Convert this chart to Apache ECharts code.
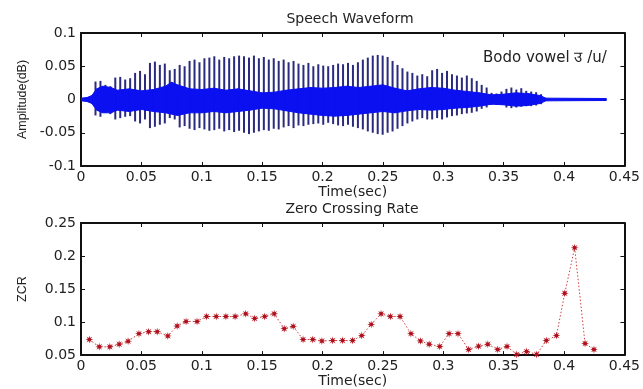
<!DOCTYPE html>
<html>
<head>
<meta charset="utf-8">
<script src="https://cdn.jsdelivr.net/npm/echarts@6/dist/echarts.min.js"></script>
<style>html,body{margin:0;padding:0;background:#fff;}#c{width:643px;height:389px;}</style>
</head>
<body>
<div id="c"></div>
<script>
// ---- Speech waveform: pitch pulses (time, positive peak, negative peak) ----
const pulseT = [0.0120,0.0161,0.0202,0.0243,0.0284,0.0325,0.0366,0.0407,0.0448,0.0489,0.0530,0.0571,0.0612,0.0653,0.0694,0.0735,0.0776,0.0817,0.0858,0.0899,0.0940,0.0981,0.1022,0.1063,0.1104,0.1145,0.1186,0.1227,0.1268,0.1309,0.1350,0.1391,0.1432,0.1473,0.1514,0.1555,0.1596,0.1637,0.1678,0.1719,0.1760,0.1801,0.1842,0.1883,0.1924,0.1965,0.2006,0.2047,0.2088,0.2129,0.2170,0.2211,0.2252,0.2293,0.2334,0.2375,0.2416,0.2457,0.2498,0.2539,0.2580,0.2621,0.2662,0.2703,0.2744,0.2785,0.2826,0.2867,0.2908,0.2949,0.2990,0.3031,0.3072,0.3113,0.3154,0.3195,0.3236,0.3277,0.3318,0.3359,0.3400,0.3441,0.3482,0.3523,0.3564,0.3605,0.3646,0.3687,0.3728,0.3769,0.3810];
const pulseHi = [0.027,0.028,0.022,0.020,0.033,0.034,0.030,0.032,0.040,0.043,
  0.038,0.055,0.057,0.052,0.054,0.044,0.046,0.052,0.050,0.058,
  0.060,0.056,0.062,0.063,0.065,0.060,0.064,0.062,0.065,0.066,
  0.065,0.063,0.066,0.062,0.064,0.060,0.062,0.058,0.060,0.056,
  0.058,0.054,0.052,0.055,0.050,0.053,0.051,0.050,0.052,0.054,
  0.053,0.055,0.052,0.056,0.060,0.063,0.066,0.067,0.066,0.064,
  0.058,0.052,0.047,0.042,0.040,0.036,0.038,0.035,0.044,0.046,
  0.040,0.043,0.038,0.036,0.033,0.036,0.032,0.028,0.022,0.018,
  0.010,0.009,0.012,0.016,0.018,0.015,0.017,0.013,0.012,0.011,0.008];
const pulseLo = [-0.024,-0.026,-0.020,-0.022,-0.030,-0.028,-0.026,-0.025,-0.033,-0.036,
  -0.030,-0.043,-0.041,-0.038,-0.036,-0.028,-0.030,-0.042,-0.040,-0.044,
  -0.046,-0.043,-0.045,-0.047,-0.046,-0.044,-0.048,-0.046,-0.049,-0.047,
  -0.050,-0.052,-0.050,-0.048,-0.046,-0.047,-0.044,-0.045,-0.042,-0.040,
  -0.043,-0.039,-0.040,-0.038,-0.037,-0.036,-0.038,-0.035,-0.037,-0.039,
  -0.040,-0.038,-0.041,-0.043,-0.045,-0.048,-0.050,-0.052,-0.053,-0.050,
  -0.048,-0.044,-0.040,-0.036,-0.033,-0.030,-0.028,-0.030,-0.030,-0.028,
  -0.030,-0.027,-0.025,-0.024,-0.022,-0.021,-0.020,-0.018,-0.014,-0.012,
  -0.008,-0.008,-0.008,-0.012,-0.013,-0.012,-0.011,-0.010,-0.010,-0.009,-0.007];
// dense core of the waveform (upper / lower edge)
const coreT  = [0.000,0.005,0.009,0.013,0.018,0.025,0.030,0.040,0.050,0.060,0.070,0.075,0.080,0.090,0.100,0.110,0.120,0.130,0.140,0.150,0.160,0.170,0.180,0.190,0.200,0.210,0.220,0.230,0.240,0.250,0.260,0.270,0.280,0.290,0.300,0.310,0.320,0.330,0.340,0.350,0.360,0.370,0.380,0.385,0.435];
const coreHi = [0.002,0.003,0.006,0.016,0.020,0.018,0.014,0.016,0.013,0.015,0.020,0.026,0.022,0.016,0.015,0.017,0.014,0.016,0.013,0.010,0.011,0.014,0.016,0.018,0.017,0.018,0.020,0.018,0.020,0.022,0.017,0.013,0.016,0.018,0.017,0.014,0.012,0.010,0.007,0.008,0.010,0.009,0.006,0.002,0.0015];
const coreLo = [-0.002,-0.003,-0.006,-0.016,-0.020,-0.020,-0.016,-0.018,-0.015,-0.018,-0.020,-0.022,-0.024,-0.020,-0.020,-0.018,-0.020,-0.018,-0.016,-0.013,-0.014,-0.017,-0.020,-0.022,-0.024,-0.025,-0.024,-0.022,-0.020,-0.018,-0.020,-0.017,-0.015,-0.016,-0.015,-0.013,-0.012,-0.010,-0.007,-0.008,-0.010,-0.009,-0.006,-0.002,-0.0015];

// ---- Zero crossing rate ----
const zcrT = [0.0069,0.0151,0.0239,0.0316,0.0390,0.0480,0.0560,0.0631,0.0719,0.0796,0.0870,0.0961,0.1040,0.1120,0.1200,0.1276,0.1364,0.1438,0.1521,0.1600,0.1683,0.1757,0.1839,0.1919,0.1995,
  0.2084,0.2166,0.2249,0.2325,0.2403,0.2485,0.2562,0.2642,0.2732,0.2811,0.2883,0.2971,0.3048,0.3122,0.3210,0.3292,0.3369,0.3451,0.3528,0.3608,0.3690,0.3773,0.3853,0.3937,0.4006,0.4088,0.4174,0.4248];
const zcrV = [0.0735,0.0625,0.0625,0.0665,0.071,0.0825,0.0855,0.0855,0.079,0.094,0.101,0.101,0.1085,0.1085,0.1085,0.1085,0.1125,0.1055,0.1085,0.1125,0.090,0.0935,0.0735,0.0735,0.0715,
  0.072,0.072,0.072,0.0795,0.0965,0.1125,0.1085,0.1085,0.0825,0.0715,0.0665,0.063,0.0825,0.0825,0.0585,0.0635,0.0665,0.0585,0.063,0.051,0.0555,0.051,0.072,0.0795,0.1435,0.2125,0.0675,0.0585];

const FONT = 'DejaVu Sans';
const starPath = 'path://M10,5 L6.85,5.77 L8.54,8.54 L5.77,6.85 L5,10 L4.23,6.85 L1.46,8.54 L3.15,5.77 L0,5 L3.15,4.23 L1.46,1.46 L4.23,3.15 L5,0 L5.77,3.15 L8.54,1.46 L6.85,4.23 Z';

function xAx(gi, show, pos) {
  return {
    gridIndex: gi, type: 'value', min: 0, max: 0.45, interval: 0.05, position: pos,
    axisLine: {show: true, onZero: false, lineStyle: {color: '#111', width: 2}},
    axisTick: {show: true, inside: true, length: 4, lineStyle: {color: '#111', width: 1}},
    axisLabel: {show: show, color: '#222', fontFamily: FONT, fontSize: 14, margin: 4,
      formatter: v => String(+v.toFixed(2))},
    splitLine: {show: false},
    name: show ? 'Time(sec)' : '', nameLocation: 'middle', nameGap: 17,
    nameTextStyle: {color: '#222', fontFamily: FONT, fontSize: 14}
  };
}
function yAx(gi, min, max, show, pos, name) {
  return {
    gridIndex: gi, type: 'value', min: min, max: max, interval: 0.05, position: pos,
    axisLine: {show: true, onZero: false, lineStyle: {color: '#111', width: 2}},
    axisTick: {show: true, inside: true, length: 4, lineStyle: {color: '#111', width: 1}},
    axisLabel: {show: show, color: '#222', fontFamily: FONT, fontSize: 14, margin: 5,
      formatter: v => String(+v.toFixed(2))},
    splitLine: {show: false},
    name: name || '', nameLocation: 'middle', nameGap: 52,
    nameTextStyle: {color: '#222', fontFamily: 'Liberation Sans', fontSize: 12.5}
  };
}

const chart = echarts.init(document.getElementById('c'), null, {renderer: 'canvas'});
chart.setOption({
  animation: false,
  backgroundColor: '#fff',
  title: [
    {text: 'Speech Waveform', left: 350, top: 12, textAlign: 'center', padding: 0,
     textStyle: {fontFamily: FONT, fontSize: 14, fontWeight: 'normal', color: '#222'}},
    {text: 'Zero Crossing Rate', left: 352, top: 202, textAlign: 'center', padding: 0,
     textStyle: {fontFamily: FONT, fontSize: 14, fontWeight: 'normal', color: '#222'}},
    {text: 'Bodo vowel \u0909 /u/', left: 483, top: 51, padding: 0,
     textStyle: {fontFamily: FONT, fontSize: 15, fontWeight: 'normal', color: '#222'}}
  ],
  grid: [
    {left: 81, right: 13, top: 33, height: 133},
    {left: 81, right: 13, top: 223, height: 133}
  ],
  xAxis: [xAx(0, true, 'bottom'), xAx(0, false, 'top'), xAx(1, true, 'bottom'), xAx(1, false, 'top')],
  yAxis: [yAx(0, -0.1, 0.1, true, 'left', 'Amplitude(dB)'), yAx(0, -0.1, 0.1, false, 'right'),
          yAx(1, 0.05, 0.25, true, 'left', 'ZCR'), yAx(1, 0.05, 0.25, false, 'right')],
  series: [
    {
      type: 'custom', xAxisIndex: 0, yAxisIndex: 0, clip: true,
      data: pulseT.map((t, i) => [t, pulseHi[i], pulseLo[i]]),
      renderItem: function (params, api) {
        const a = api.coord([api.value(0), api.value(1)]);
        const b = api.coord([api.value(0), api.value(2)]);
        return {type: 'line', shape: {x1: a[0], y1: a[1], x2: b[0], y2: b[1]},
                style: {stroke: '#2a2a7e', lineWidth: 2}};
      }
    },
    {
      type: 'custom', xAxisIndex: 0, yAxisIndex: 0, clip: true,
      data: coreT.slice(0, -1).map((t, i) => [t, coreHi[i], coreLo[i], coreT[i + 1], coreHi[i + 1], coreLo[i + 1]]),
      renderItem: function (params, api) {
        const p1 = api.coord([api.value(0), api.value(1)]);
        const p2 = api.coord([api.value(3), api.value(4)]);
        const p3 = api.coord([api.value(3), api.value(5)]);
        const p4 = api.coord([api.value(0), api.value(2)]);
        return {type: 'polygon', shape: {points: [p1, p2, p3, p4]},
                style: {fill: '#0a10f0', stroke: '#0a10f0', lineWidth: 1}};
      }
    },
    {
      type: 'line', xAxisIndex: 2, yAxisIndex: 2,
      data: zcrT.map((t, i) => [t, zcrV[i]]),
      symbol: starPath, symbolSize: 8, showSymbol: true,
      lineStyle: {color: '#d04040', width: 1, type: [1.5, 2]},
      itemStyle: {color: '#b0101c'}
    }
  ]
});
</script>
</body>
</html>
